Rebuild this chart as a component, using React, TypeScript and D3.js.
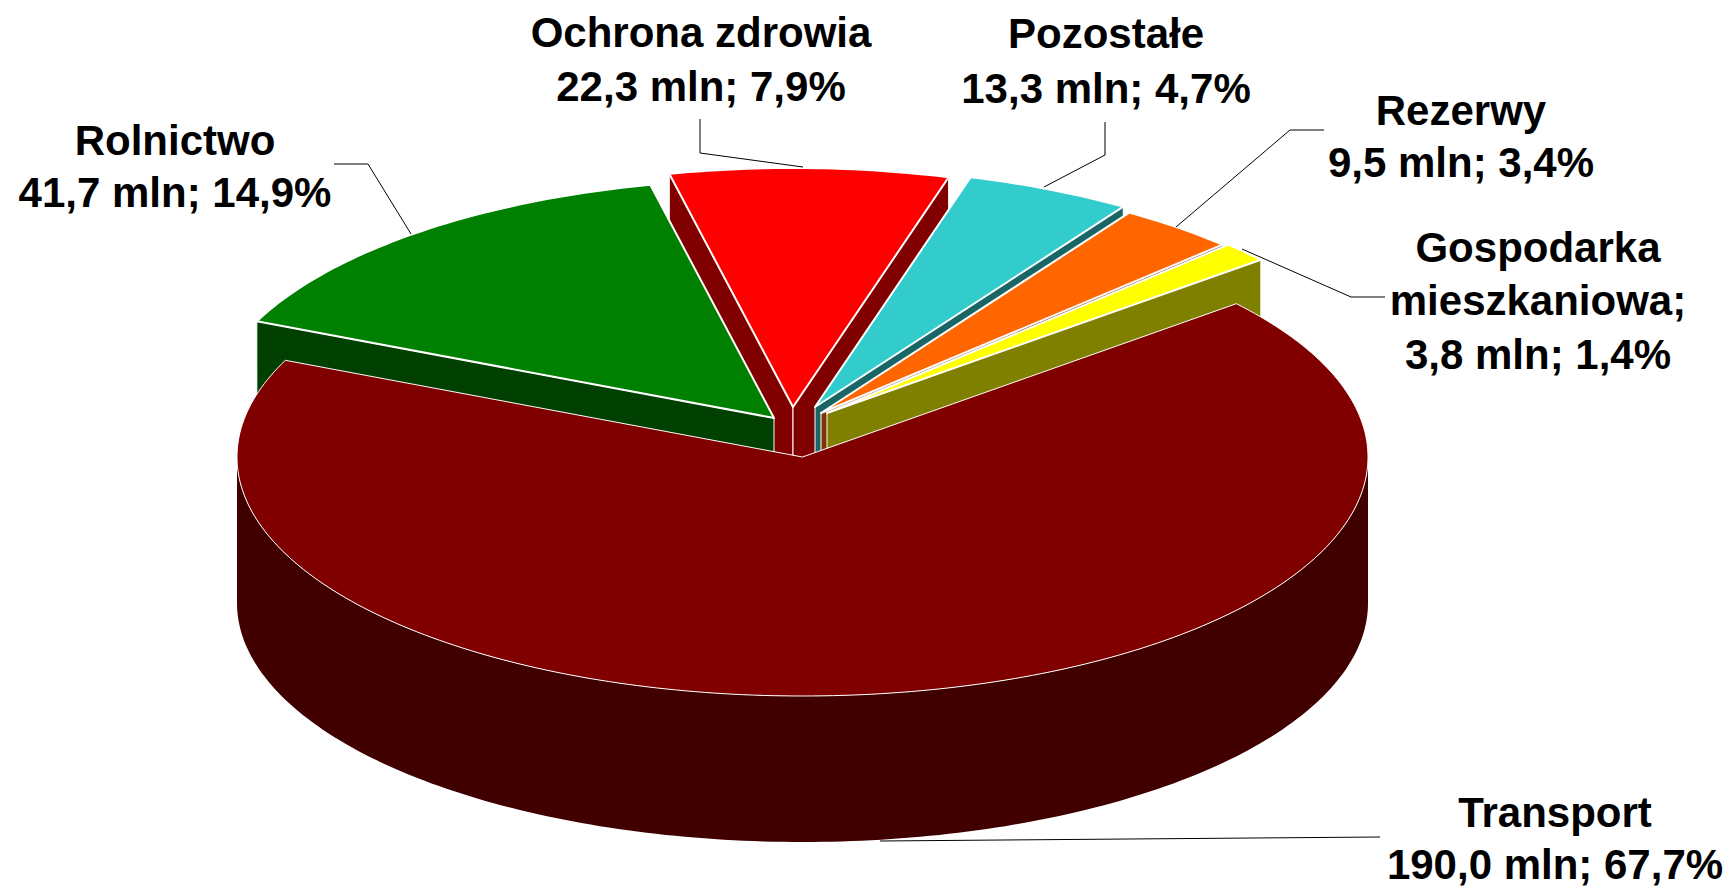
import React from "react";
import * as d3 from "d3";

const categories = ["Transport", "Rolnictwo", "Ochrona zdrowia", "Pozostałe", "Rezerwy", "Gospodarka mieszkaniowa"];
const amounts = [190.0, 41.7, 22.3, 13.3, 9.5, 3.8];
const labelLines = [
  ["Transport", "190,0 mln; 67,7%"],
  ["Rolnictwo", "41,7 mln; 14,9%"],
  ["Ochrona zdrowia", "22,3 mln; 7,9%"],
  ["Pozostałe", "13,3 mln; 4,7%"],
  ["Rezerwy", "9,5 mln; 3,4%"],
  ["Gospodarka", "mieszkaniowa;", "3,8 mln; 1,4%"],
];
const topColors = ["#800000", "#008000", "#ff0000", "#33cccc", "#ff6600", "#ffff00"];
const sideColors = ["#400000", "#004000", "#800000", "#1a6666", "#803300", "#808000"];

// layout
const CX = 802.5, CY = 457, RX = 565.5, RY = 239, DEPTH = 146;
const START_DEG = 50.1;
const explode: [number, number][] = [[0, 0], [-28.5, -39], [-9.5, -50], [12.5, -50], [18.5, -44], [24.5, -44]];
const labelX = [1555, 175, 701, 1106, 1461, 1538];
const labelY = [[827, 879], [155, 207], [47, 101], [48, 103], [125, 177], [262, 315, 369]];
const leaders: [number, number][][] = [
  [[880, 841], [1380, 837]],
  [[334, 164], [368, 164], [411, 234]],
  [[700, 119], [700, 153], [803, 167]],
  [[1105, 122], [1105, 155], [1044, 187]],
  [[1324, 130], [1290, 130], [1176, 227]],
  [[1242, 249], [1351, 297], [1385, 297]],
];
const drawOrder = [2, 1, 3, 4, 5, 0];

const rad = (d: number) => (d * Math.PI) / 180;
const pie = d3.pie<number>().sort(null).startAngle(rad(START_DEG)).endAngle(rad(START_DEG + 360));
const arcs = pie(amounts);
const line = d3.line<[number, number]>();

function rim(a0: number, a1: number, ox: number, oy: number): [number, number][] {
  const n = Math.max(2, Math.ceil(((a1 - a0) * 180) / Math.PI));
  return d3.range(n + 1).map((i) => {
    const a = a0 + ((a1 - a0) * i) / n;
    return [CX + ox + RX * Math.sin(a), CY + oy - RY * Math.cos(a)] as [number, number];
  });
}
const drop = (p: [number, number]): [number, number] => [p[0], p[1] + DEPTH];

export default function App() {
  return (
    <svg width={1733} height={887} style={{ position: "absolute", left: 0, top: 0, background: "#fff" }}>
      {drawOrder.map((i) => {
        const a = arcs[i];
        const [ox, oy] = explode[i];
        const apex: [number, number] = [CX + ox, CY + oy];
        const pts = rim(a.startAngle, a.endAngle, ox, oy);
        const first = pts[0];
        const last = pts[pts.length - 1];
        const thin = i === 0;
        const sw = thin ? 1 : 2;
        const outerFrom = Math.max(a.startAngle, rad(90));
        const outerTo = Math.min(a.endAngle, rad(270));
        const outer = outerTo > outerFrom ? rim(outerFrom, outerTo, ox, oy) : null;
        return (
          <g key={categories[i]}>
            {!thin && Math.sin(a.startAngle) < 0 && (
              <path d={line([first, apex, drop(apex), drop(first)]) + "Z"} fill={sideColors[i]} stroke="#fff" strokeWidth={1} />
            )}
            {!thin && Math.sin(a.endAngle) > 0 && (
              <path d={line([last, apex, drop(apex), drop(last)]) + "Z"} fill={sideColors[i]} stroke="#fff" strokeWidth={1} />
            )}
            {outer && (
              <path d={line([...outer, ...outer.slice().reverse().map(drop)]) + "Z"} fill={sideColors[i]} />
            )}
            <path d={line([apex, ...pts]) + "Z"} fill={topColors[i]} stroke="#fff" strokeWidth={sw} strokeLinejoin="round" />
          </g>
        );
      })}
      {leaders.map((l, i) => (
        <path key={i} d={line(l) as string} fill="none" stroke="#000" strokeWidth={1} />
      ))}
      {labelLines.map((lines, i) => (
        <text key={i} textAnchor="middle" fontFamily="'Liberation Sans', Arial, sans-serif" fontWeight="bold" fontSize={42} fill="#000">
          {lines.map((t, j) => (
            <tspan key={j} x={labelX[i]} y={labelY[i][j]}>{t}</tspan>
          ))}
        </text>
      ))}
    </svg>
  );
}
